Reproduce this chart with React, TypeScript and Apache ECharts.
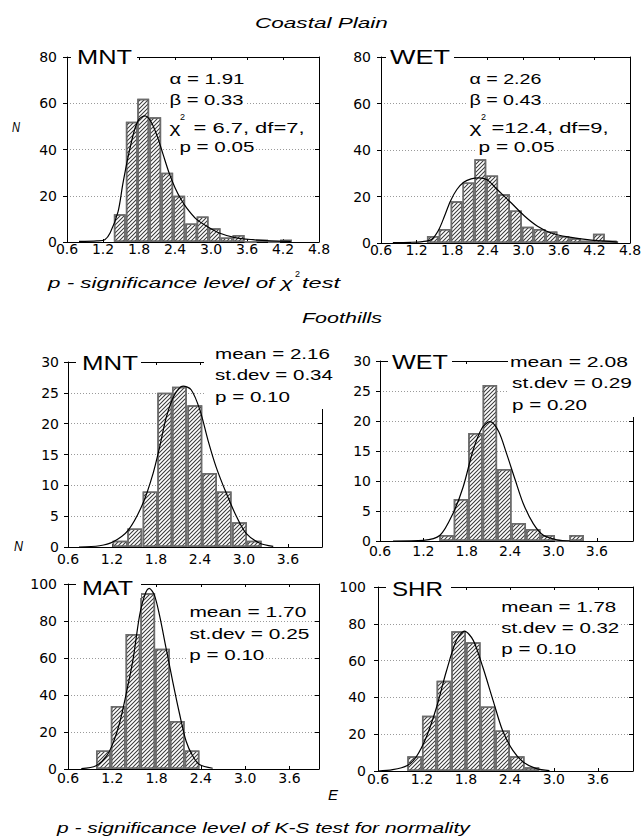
import React, { useEffect, useRef } from 'react';
import * as echarts from 'echarts';

// ---------------- data ----------------
// Coastal Plain — MNT
const coastMntBins = [1.48, 1.68, 1.87, 2.07, 2.27, 2.47, 2.67, 2.86, 3.06, 3.26, 3.46, 3.66, 3.85, 4.05, 4.25];
const coastMntCounts = [12, 52, 62, 54, 30, 20, 8, 11, 6, 2, 3, 0, 1, 0, 1];
const coastMntCurve = [[0.8, 0.3], [1.1, 0.5], [1.23, 1], [1.32, 4], [1.45, 13], [1.53, 25], [1.62, 37], [1.72, 48], [1.8, 53], [1.9, 54.5], [2.0, 52], [2.1, 46], [2.2, 38], [2.3, 30], [2.4, 23.5], [2.5, 18.5], [2.6, 14.5], [2.75, 10], [2.95, 6.5], [3.15, 3.8], [3.4, 1.9], [3.7, 1], [4.0, 0.5], [4.33, 0.3]];

// Coastal Plain — WET
const coastWetBins = [1.475, 1.675, 1.875, 2.075, 2.275, 2.475, 2.675, 2.875, 3.075, 3.275, 3.475, 3.675, 3.875, 4.075, 4.275, 4.475];
const coastWetCounts = [3, 6, 18, 26, 36, 29, 21, 14, 7, 6, 5, 3, 2, 1, 4, 1];
const coastWetCurve = [[0.8, 0.2], [1.1, 0.3], [1.3, 0.6], [1.45, 1.5], [1.57, 5.5], [1.67, 11.5], [1.77, 18], [1.88, 23], [2.0, 26.2], [2.12, 27.6], [2.25, 28], [2.39, 27.2], [2.56, 23], [2.79, 17.4], [3.02, 11.6], [3.24, 7.2], [3.47, 4.3], [3.75, 2.6], [4.15, 1.2], [4.6, 0.4]];

// Foothills — MNT
const footMntBins = [1.31, 1.51, 1.72, 1.92, 2.12, 2.33, 2.53, 2.73, 2.94, 3.14];
const footMntCounts = [1, 3, 9, 25, 26, 23, 12, 9, 4, 1];
const footMntCurve = [[0.75, 0], [1.03, 0.2], [1.21, 0.8], [1.42, 2.7], [1.62, 7], [1.76, 11.9], [1.85, 16.2], [1.94, 21], [2.05, 24.6], [2.17, 26.1], [2.28, 25.5], [2.4, 22.2], [2.51, 17.3], [2.62, 13], [2.76, 8.7], [2.9, 4.9], [3.03, 2.2], [3.21, 0.65], [3.4, 0.1]];

// Foothills — WET
const footWetBins = [1.52, 1.72, 1.92, 2.12, 2.32, 2.52, 2.72, 2.92, 3.12, 3.32];
const footWetCounts = [1, 7, 18, 26, 12, 3, 2, 1, 0, 1];
const footWetCurve = [[0.78, 0], [1.2, 0.1], [1.43, 0.95], [1.61, 4.6], [1.75, 9], [1.89, 15.2], [2.01, 18.8], [2.12, 19.9], [2.24, 18.3], [2.35, 14.6], [2.47, 10.2], [2.58, 6.3], [2.72, 2.9], [2.86, 0.95], [3.05, 0.2], [3.23, 0]];

// Foothills — MAT
const footMatBins = [1.08, 1.28, 1.48, 1.68, 1.88, 2.08, 2.28];
const footMatCounts = [10, 34, 73, 95, 65, 26, 10];
const footMatCurve = [[0.78, 0.2], [0.98, 1.8], [1.12, 6.9], [1.21, 14], [1.3, 25], [1.39, 41], [1.48, 59], [1.57, 83], [1.64, 94], [1.7, 97.6], [1.77, 94], [1.84, 83], [1.93, 65], [2.02, 47], [2.11, 30], [2.2, 15], [2.29, 7], [2.38, 2.4], [2.56, 0.4]];

// Foothills — SHR
const footShrBins = [1.1, 1.3, 1.5, 1.7, 1.9, 2.1, 2.3, 2.5, 2.7];
const footShrCounts = [8, 30, 49, 76, 70, 35, 22, 8, 2];
const footShrCurve = [[0.6, 0], [0.8, 0.7], [1.0, 3], [1.12, 7.6], [1.26, 18.5], [1.4, 34.8], [1.53, 53.8], [1.67, 71], [1.78, 76], [1.9, 71], [2.03, 56.5], [2.17, 38.4], [2.3, 22], [2.44, 11.2], [2.58, 4.9], [2.76, 1.3], [2.94, 0.2]];

const X_MIN = 0.6;
const X_STEP = 0.6;

// ---------------- layout ----------------
const FONT = '"Liberation Sans", Arial, sans-serif';
const TICK_FONT = '"DejaVu Sans", sans-serif';
const TICK_SIZE = 14;

// forward-slash hatch tile (4x4): band along x+y=4 plus the two corner pieces
const HATCH = 'path://M0,3.25 L0,4 L0.75,4 L4,0.75 L4,0 L3.25,0 Z M0,0 L0.75,0 L0,0.75 Z M4,4 L3.25,4 L4,3.25 Z';

const panels = [
  { g: [67, 57, 252, 185], xMax: 4.8, yMax: 80, yStep: 20, binW: 0.198, bins: coastMntBins, counts: coastMntCounts, curve: coastMntCurve, xm: 0, ym: 10 },
  { g: [381, 57, 249, 186], xMax: 4.8, yMax: 80, yStep: 20, binW: 0.2, bins: coastWetBins, counts: coastWetCounts, curve: coastWetCurve, xm: 0, ym: 10 },
  { g: [68, 362, 254, 185], xMax: 4.065, yMax: 30, yStep: 5, binW: 0.203, bins: footMntBins, counts: footMntCounts, curve: footMntCurve, xm: 5, ym: 9 },
  { g: [380, 361, 253, 180], xMax: 4.1, yMax: 30, yStep: 5, binW: 0.2, bins: footWetBins, counts: footWetCounts, curve: footWetCurve, xm: 3, ym: 9 },
  { g: [68, 584, 251, 185], xMax: 4.0, yMax: 100, yStep: 20, binW: 0.2, bins: footMatBins, counts: footMatCounts, curve: footMatCurve, xm: 2, ym: 11 },
  { g: [378, 587, 255, 184], xMax: 4.08, yMax: 100, yStep: 20, binW: 0.2, bins: footShrBins, counts: footShrCounts, curve: footShrCurve, xm: 1, ym: 12 },
];

let measureCtx: CanvasRenderingContext2D | null = null;
function textWidth(s: string, size: number, italic: boolean) {
  if (!measureCtx) measureCtx = document.createElement('canvas').getContext('2d');
  measureCtx!.font = `${italic ? 'italic ' : ''}${size}px ${FONT}`;
  return measureCtx!.measureText(s).width;
}

function txt(s: string, left: number, cy: number, size: number, width: number | null, opts: { italic?: boolean; bg?: boolean } = {}) {
  const natural = textWidth(s, size, !!opts.italic);
  const sx = width ? width / natural : 1;
  const style: any = {
    text: s,
    fontSize: size,
    fontFamily: FONT,
    fontStyle: opts.italic ? 'italic' : 'normal',
    fill: '#000',
    align: 'left',
    verticalAlign: 'middle',
  };
  if (opts.bg) {
    style.backgroundColor = '#fff';
    style.padding = [1, 1];
  }
  return { type: 'text', x: left, y: cy, scaleX: sx, z: 100, silent: true, style };
}

function whiteRect(x: number, y: number, w: number, h: number) {
  return { type: 'rect', shape: { x, y, width: w, height: h }, style: { fill: '#fff' }, z: 99, silent: true };
}

function buildOption() {
  const grid: any[] = [];
  const xAxis: any[] = [];
  const yAxis: any[] = [];
  const series: any[] = [];

  panels.forEach((p, i) => {
    grid.push({ left: p.g[0], top: p.g[1], width: p.g[2], height: p.g[3], containLabel: false, outerBoundsMode: 'none' });
    const isStep = (v: number) => Math.abs(v / X_STEP - Math.round(v / X_STEP)) < 1e-6;
    const axisLine = { show: true, onZero: false, lineStyle: { color: '#000', width: 1 } };
    xAxis.push({
      type: 'value', gridIndex: i, position: 'bottom', min: X_MIN, max: p.xMax, interval: X_STEP,
      axisLine, axisTick: { show: true, inside: true, length: 3, lineStyle: { color: '#000' } },
      axisLabel: { margin: p.xm, color: '#000', fontFamily: TICK_FONT, fontSize: TICK_SIZE, formatter: (v: number) => (isStep(v) ? v.toFixed(1) : '') },
      splitLine: { show: false },
    });
    xAxis.push({
      type: 'value', gridIndex: i, position: 'top', min: X_MIN, max: p.xMax, interval: X_STEP,
      axisLine, axisTick: { show: true, inside: true, length: 3, lineStyle: { color: '#000' } },
      axisLabel: { show: false }, splitLine: { show: false },
    });
    yAxis.push({
      type: 'value', gridIndex: i, position: 'left', min: 0, max: p.yMax, interval: p.yStep,
      axisLine, axisTick: { show: true, inside: false, length: 4, lineStyle: { color: '#000' } },
      axisLabel: { margin: p.ym, color: '#000', fontFamily: TICK_FONT, fontSize: TICK_SIZE },
      splitLine: { show: true, lineStyle: { color: '#9a9a9a', type: [1, 2], width: 1 } },
    });
    yAxis.push({
      type: 'value', gridIndex: i, position: 'right', min: 0, max: p.yMax, interval: p.yStep,
      axisLine, axisTick: { show: true, inside: true, length: 4, lineStyle: { color: '#000' } },
      axisLabel: { show: false }, splitLine: { show: false },
    });
    const pxPerUnit = p.g[2] / (p.xMax - X_MIN);
    series.push({
      type: 'bar', xAxisIndex: 2 * i, yAxisIndex: 2 * i,
      data: p.bins.map((x, k) => [x, p.counts[k]]),
      barWidth: p.binW * pxPerUnit,
      silent: true, z: 2,
      itemStyle: {
        color: '#ffffff', borderColor: '#6c6c6c', borderWidth: 1.5,
        decal: { symbol: HATCH, symbolSize: 1, symbolKeepAspect: false, dashArrayX: [4, 0], dashArrayY: [4, 0], rotation: 0, color: '#3a3a3a' },
      },
    });
    series.push({
      type: 'line', xAxisIndex: 2 * i, yAxisIndex: 2 * i, data: p.curve,
      smooth: 0.3, symbol: 'none', showSymbol: false, silent: true, z: 3,
      lineStyle: { color: '#000', width: 1.2 },
    });
  });

  const graphic: any[] = [
    // section titles
    txt('Coastal Plain', 255, 23, 14, 133, { italic: true }),
    txt('Foothills', 302, 318, 14, 80, { italic: true }),
    // axis titles
    txt('N', 12, 128, 14, 8, { italic: true }),
    txt('N', 14, 546, 14, 9, { italic: true }),
    txt('E', 328, 795, 14, 10, { italic: true }),
    txt('p - significance level of χ', 48, 283, 14, 245, { italic: true }),
    txt('2', 295, 274, 9, null, { italic: false }),
    txt('test', 302, 283, 14, 38, { italic: true }),
    txt('p - significance level of K-S test for normality', 57, 828, 14, 413, { italic: true }),

    // panel names covering the top frame
    whiteRect(71, 47, 66, 20), txt('MNT', 77, 57, 21, 55),
    whiteRect(386, 47, 68, 20), txt('WET', 390, 57, 21, 60),
    whiteRect(76, 352, 65, 20), txt('MNT', 82, 363, 21, 56),
    whiteRect(388, 351, 64, 20), txt('WET', 392, 362, 21, 56),
    whiteRect(76, 578, 65, 20), txt('MAT', 82, 588, 21, 51),
    whiteRect(386, 579, 65, 20), txt('SHR', 392, 589, 21, 51),

    // Coastal MNT annotations
    txt('α = 1.91', 168, 79, 14, 75, { bg: true }),
    txt('β = 0.33', 168, 100, 14, 74, { bg: true }),
    txt('χ', 168, 128, 14, 11, { bg: true }),
    txt('2', 180, 117, 9, null),
    txt('= 6.7, df=7,', 192, 128, 14, 111, { bg: true }),
    txt('p = 0.05', 178, 147, 14, 75, { bg: true }),

    // Coastal WET annotations
    txt('α = 2.26', 468, 79, 14, 72, { bg: true }),
    txt('β = 0.43', 468, 100, 14, 72, { bg: true }),
    txt('χ', 468, 128, 14, 12, { bg: true }),
    txt('2', 481, 117, 9, null),
    txt('=12.4, df=9,', 490, 128, 14, 117, { bg: true }),
    txt('p = 0.05', 477, 147, 14, 76, { bg: true }),

    // Foothills MNT legend box
    whiteRect(204, 342, 136, 67),
    txt('mean = 2.16', 215, 354, 15, 115),
    txt('st.dev = 0.34', 215, 375, 15, 118),
    txt('p = 0.10', 215, 397, 15, 75),

    // Foothills WET legend box
    whiteRect(508, 348, 133, 69),
    txt('mean = 2.08', 510, 362, 15, 118),
    txt('st.dev = 0.29', 512, 383, 15, 120),
    txt('p = 0.20', 512, 405, 15, 75),

    // Foothills MAT
    txt('mean = 1.70', 188, 612, 15, 117, { bg: true }),
    txt('st.dev = 0.25', 188, 634, 15, 120, { bg: true }),
    txt('p = 0.10', 188, 655, 15, 75, { bg: true }),

    // Foothills SHR
    txt('mean = 1.78', 500, 607, 15, 115, { bg: true }),
    txt('st.dev = 0.32', 500, 628, 15, 118, { bg: true }),
    txt('p = 0.10', 500, 649, 15, 75, { bg: true }),
  ];

  return {
    animation: false,
    backgroundColor: '#ffffff',
    grid, xAxis, yAxis, series, graphic,
  };
}

export default function App() {
  const ref = useRef<HTMLDivElement>(null);
  useEffect(() => {
    if (!ref.current) return;
    const chart = echarts.init(ref.current, null, { renderer: 'svg' });
    chart.setOption(buildOption() as any);
    return () => chart.dispose();
  }, []);
  return <div ref={ref} style={{ position: 'absolute', left: 0, top: 0, width: 641, height: 839, background: '#fff' }} />;
}
